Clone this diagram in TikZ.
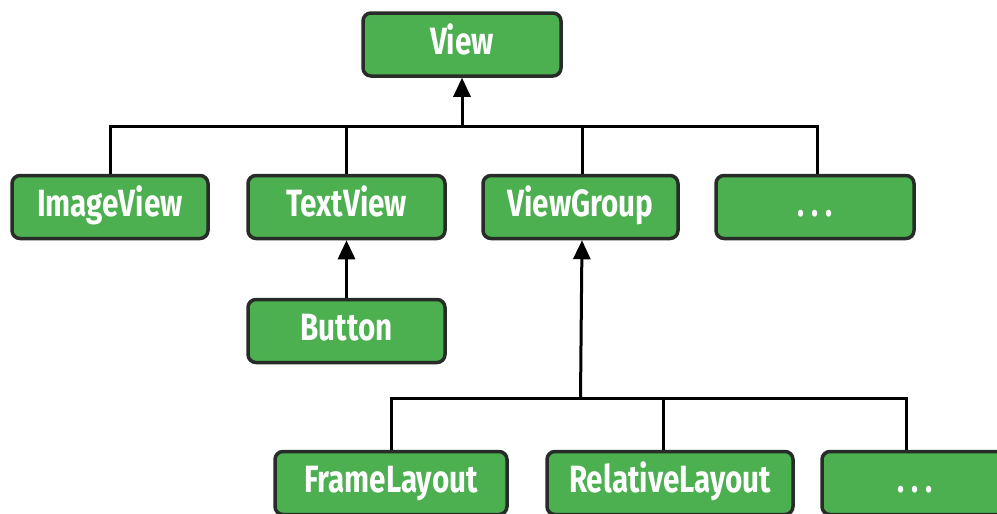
\documentclass[tikz,border=0pt]{standalone}
\usepackage{fontspec}
\newfontfamily\boxfont{Fira Sans}[FakeStretch=0.78]
\usetikzlibrary{arrows.meta}
\definecolor{boxgreen}{RGB}{76,175,80}
\definecolor{boxedge}{RGB}{40,44,40}
\begin{document}
\begin{tikzpicture}[x=1pt,y=-1pt,
  cls/.style={draw=boxedge, line width=3.5pt, fill=boxgreen, rounded corners=8pt,
    inner sep=0pt, text=white, font=\boxfont\bfseries\fontsize{38}{40}\selectfont,
    text height=28pt, text depth=9pt, minimum height=63pt},
  link/.style={line width=3pt, draw=black},
  inh/.style={link, -{Triangle[length=19pt,width=17pt]}}]
\clip (0,0) rectangle (997,514);
\fill[white] (0,0) rectangle (997,514);
% nodes
\node[cls, minimum width=198pt] (view) at (462,44.5) {View};
\node[cls, minimum width=196pt] (imageview) at (110,207) {ImageView};
\node[cls, minimum width=197pt] (textview) at (346.5,207) {TextView};
\node[cls, minimum width=195pt] (viewgroup) at (580.5,207) {ViewGroup};
\node[cls, minimum width=198pt] (dotsa) at (815,207) {.\hspace{7pt}.\hspace{7pt}.};
\node[cls, minimum width=197pt] (button) at (346.5,331) {Button};
\node[cls, minimum width=232pt] (frame) at (391,483) {FrameLayout};
\node[cls, minimum width=246pt] (relative) at (670,483) {RelativeLayout};
\node[cls, minimum width=186pt] (dotsb) at (915,483) {.\hspace{7pt}.\hspace{7pt}.};
% buses
\coordinate (busa) at (462,126);
\coordinate (busb) at (582,398);
% top level
\draw[link] (imageview.north) |- ([xshift=2pt]dotsa.north |- busa) -- ([xshift=2pt]dotsa.north);
\draw[link] (textview.north) -- (textview.north |- busa);
\draw[link] ([xshift=2pt]viewgroup.north) -- ([xshift=2pt]viewgroup.north |- busa);
\draw[inh] (busa) -- (view.south);
% button
\draw[inh] (button.north) -- (textview.south);
% bottom level
\draw[link] (frame.north) |- ([xshift=-9pt]dotsb.north |- busb) -- ([xshift=-9pt]dotsb.north);
\draw[link] ([xshift=-7pt]relative.north) -- ([xshift=-7pt]relative.north |- busb);
\draw[inh] (busb) -- (busb -| viewgroup.south) -- ([xshift=1.5pt]viewgroup.south);
\end{tikzpicture}
\end{document}
